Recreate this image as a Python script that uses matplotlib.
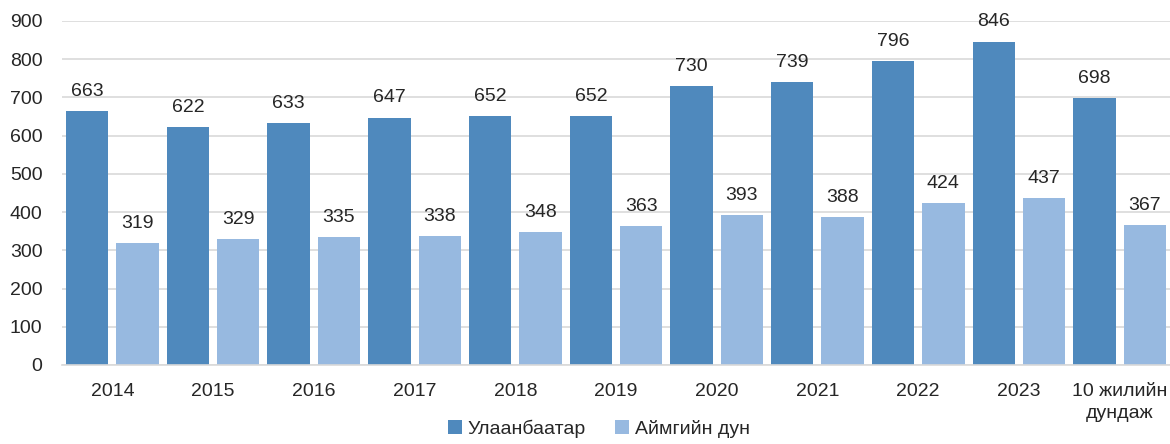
import numpy as np
import matplotlib.pyplot as plt

plt.rcParams['font.family'] = ['Liberation Sans', 'DejaVu Sans']

categories = ['2014', '2015', '2016', '2017', '2018', '2019', '2020',
              '2021', '2022', '2023', '10 жилийн\nдундаж']
ulaanbaatar = [663, 622, 633, 647, 652, 652, 730, 739, 796, 846, 698]
aimag = [319, 329, 335, 338, 348, 363, 393, 388, 424, 437, 367]
series_names = ['Улаанбаатар', 'Аймгийн дун']

c_dark = '#4F89BD'
c_light = '#97B9E0'
txt = '#262626'

fig = plt.figure(figsize=(11.7, 4.44), dpi=100)
ax = fig.add_axes([0.053, 0.178, 0.947, 0.775])

x = np.arange(len(categories))
w = 0.42
b1 = ax.bar(x - 0.25, ulaanbaatar, w, color=c_dark, label=series_names[0], zorder=2)
b2 = ax.bar(x + 0.25, aimag, w, color=c_light, label=series_names[1], zorder=2)

for bars, vals in ((b1, ulaanbaatar), (b2, aimag)):
    for r, v in zip(bars, vals):
        ax.annotate(str(v), (r.get_x() + r.get_width() / 2, v),
                    xytext=(0, 8), textcoords='offset points',
                    ha='center', va='bottom', fontsize=14, color=txt)

ax.set_xlim(-0.5, len(categories) - 0.5)
ax.set_ylim(0, 900)
ax.set_yticks(range(0, 901, 100))
ax.yaxis.grid(True, color='#D9D9D9', lw=1.2, zorder=0)
ax.set_axisbelow(True)
for s in ('top', 'right', 'left'):
    ax.spines[s].set_visible(False)
ax.spines['bottom'].set_color('#D9D9D9')
ax.spines['bottom'].set_linewidth(1.2)
ax.tick_params(axis='both', length=0, labelsize=14, colors=txt)
ax.tick_params(axis='y', pad=14)
ax.tick_params(axis='x', pad=13)
ax.set_xticks(x)
ax.set_xticklabels(categories, linespacing=1.35)

fig.legend(loc='center', bbox_to_anchor=(0.512, 0.034), ncol=2,
           frameon=False, fontsize=14, handlelength=0.7, handleheight=0.7,
           handletextpad=0.3, columnspacing=1.5, labelcolor=txt,
           borderpad=0)

fig.savefig('out.png', dpi=100)
